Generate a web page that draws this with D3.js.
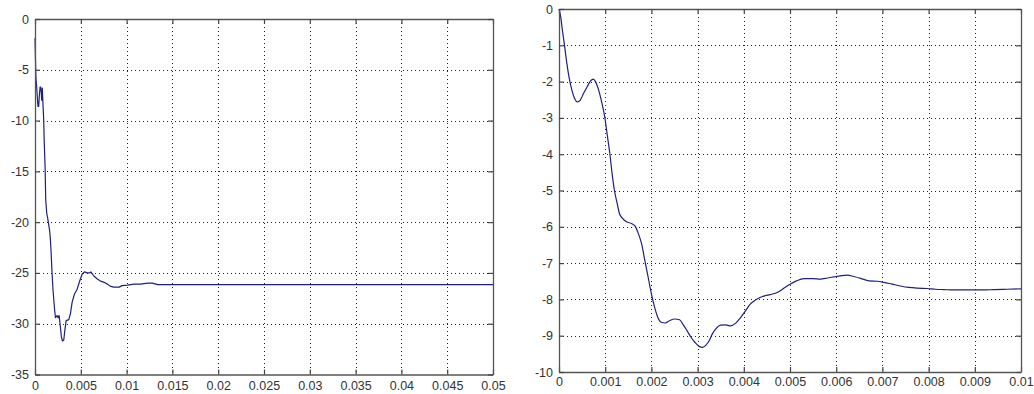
<!DOCTYPE html>
<html>
<head>
<meta charset="utf-8">
<script src="https://cdn.jsdelivr.net/npm/d3@7"></script>
<style>
  html, body { margin: 0; padding: 0; background: #fff; }
  svg { display: block; }
  .tick text { font-family: "Liberation Sans", Arial, sans-serif; font-size: 12.5px; fill: #333; }
</style>
</head>
<body>
<svg id="chart" width="1034" height="394"></svg>
<script>
// Step response, full run (0 .. 0.05 s)
const fullTime = [0, 0.00007, 0.0001, 0.00018, 0.00026, 0.00033, 0.0004, 0.00047, 0.00055, 0.00062, 0.00068,
  0.00073, 0.0008, 0.00088, 0.00095, 0.001, 0.0011, 0.00117, 0.00128, 0.00142, 0.0016, 0.00168, 0.00175,
  0.00186, 0.00197, 0.00212, 0.00223, 0.0024, 0.00252, 0.00263, 0.00277, 0.00288, 0.003, 0.00314, 0.00325,
  0.0034, 0.00369, 0.00387, 0.00405, 0.0043, 0.0046, 0.0049, 0.00515, 0.0054, 0.0057, 0.006, 0.0061,
  0.00642, 0.0068, 0.00715, 0.0075, 0.0079, 0.0082, 0.0086, 0.0092, 0.0095, 0.0101, 0.0108, 0.0115,
  0.0123, 0.0128, 0.0134, 0.02, 0.03, 0.04, 0.05];
const fullValue = [-1.9, -4.7, -5.8, -6.65, -7.8, -8.6, -8.6, -7.6, -6.7, -6.7, -7.2,
  -8.0, -6.8, -8.6, -9.9, -11.9, -14.5, -17.8, -19.1, -19.8, -20.85, -21.7, -22.8,
  -25.0, -26.7, -28.4, -29.4, -29.2, -29.4, -29.2, -30.3, -31.3, -31.7, -31.6, -30.7,
  -29.7, -29.6, -29.0, -27.9, -27.1, -26.6, -25.75, -25.1, -24.9, -25.0, -25.0, -24.9,
  -25.3, -25.6, -25.8, -25.9, -26.1, -26.3, -26.4, -26.4, -26.25, -26.2, -26.1, -26.1,
  -26.0, -26.0, -26.15, -26.15, -26.15, -26.15, -26.15];

// Same response, first 10 ms
const zoomTime = [0, 0.000036, 0.000073, 0.000117, 0.00017, 0.00022, 0.00028, 0.00034, 0.0004, 0.00046,
  0.00053, 0.00061, 0.00068, 0.00074, 0.00079, 0.00086, 0.00093, 0.00099, 0.00104, 0.0011, 0.00115,
  0.0012, 0.00126, 0.00131, 0.00137, 0.00146, 0.00157, 0.00164, 0.00171, 0.00179, 0.00186, 0.00193,
  0.002, 0.00207, 0.00214, 0.00221, 0.0023, 0.00239, 0.0025, 0.00261, 0.00268, 0.00277, 0.00286,
  0.00294, 0.00304, 0.00311, 0.00318, 0.00325, 0.00332, 0.00339, 0.0035, 0.00361, 0.00371, 0.00382,
  0.00393, 0.00404, 0.00414, 0.00425, 0.00436, 0.00446, 0.00457, 0.00468, 0.00479, 0.00489, 0.005,
  0.00514, 0.0053, 0.0055, 0.00566, 0.00581, 0.00595, 0.00609, 0.00624, 0.00638, 0.00653, 0.00671,
  0.00689, 0.00703, 0.00721, 0.00739, 0.00757, 0.00775, 0.00797, 0.00815, 0.00833, 0.00854, 0.00876,
  0.00898, 0.00919, 0.00941, 0.0097, 0.01];
const zoomValue = [0, -0.21, -0.58, -0.98, -1.5, -1.9, -2.24, -2.47, -2.56, -2.51,
  -2.33, -2.14, -1.99, -1.93, -2.0, -2.24, -2.6, -2.97, -3.43, -3.98, -4.54,
  -5.0, -5.36, -5.64, -5.76, -5.86, -5.91, -5.97, -6.16, -6.48, -6.94, -7.39,
  -7.85, -8.22, -8.5, -8.63, -8.65, -8.59, -8.54, -8.56, -8.68, -8.86, -9.05,
  -9.18, -9.3, -9.32, -9.26, -9.14, -8.95, -8.82, -8.71, -8.7, -8.73, -8.66,
  -8.5, -8.31, -8.13, -8.02, -7.94, -7.9, -7.87, -7.83, -7.76, -7.67, -7.58,
  -7.49, -7.43, -7.43, -7.44, -7.41, -7.38, -7.35, -7.33, -7.37, -7.42, -7.49,
  -7.5, -7.53, -7.58, -7.63, -7.67, -7.69, -7.7, -7.72, -7.73, -7.74, -7.74,
  -7.74, -7.74, -7.73, -7.72, -7.71];

// Tick values
const fullXTicks = [0, 0.005, 0.01, 0.015, 0.02, 0.025, 0.03, 0.035, 0.04, 0.045, 0.05];
const fullYTicks = [0, -5, -10, -15, -20, -25, -30, -35];
const zoomXTicks = [0, 0.001, 0.002, 0.003, 0.004, 0.005, 0.006, 0.007, 0.008, 0.009, 0.01];
const zoomYTicks = [0, -1, -2, -3, -4, -5, -6, -7, -8, -9, -10];

const svg = d3.select("#chart");
const lineColor = "#1f1f80";

function fmt(v) {
  if (v === 0) return "0";
  return String(+v.toFixed(4));
}

function panel(box, xDomain, yDomain, xTicks, yTicks, tData, vData, curve) {
  const x = d3.scaleLinear().domain(xDomain).range([box.left, box.right]);
  const y = d3.scaleLinear().domain(yDomain).range([box.bottom, box.top]);
  const g = svg.append("g");

  g.append("rect")
    .attr("x", box.left).attr("y", box.top)
    .attr("width", box.right - box.left).attr("height", box.bottom - box.top)
    .attr("fill", "#fff");

  // dotted grid
  const grid = g.append("g").attr("stroke", "#222").attr("stroke-width", 1)
    .attr("stroke-dasharray", "1,3");
  grid.selectAll("line.gx").data(xTicks.slice(1, -1)).join("line")
    .attr("x1", d => Math.round(x(d)) + 0.5).attr("x2", d => Math.round(x(d)) + 0.5)
    .attr("y1", box.top).attr("y2", box.bottom);
  grid.selectAll("line.gy").data(yTicks.slice(1, -1)).join("line")
    .attr("y1", d => Math.round(y(d)) + 0.5).attr("y2", d => Math.round(y(d)) + 0.5)
    .attr("x1", box.left).attr("x2", box.right);

  // response curve
  const pts = tData.map((t, i) => [t, vData[i]]);
  g.append("path")
    .datum(pts)
    .attr("fill", "none")
    .attr("stroke", lineColor)
    .attr("stroke-width", 1.2)
    .attr("stroke-linejoin", "round")
    .attr("d", d3.line().x(d => x(d[0])).y(d => y(d[1])).curve(curve));

  // axes with inward ticks on all four sides
  const tk = 5;
  const bottomAxis = d3.axisBottom(x).tickValues(xTicks).tickFormat(fmt).tickSizeInner(-tk).tickSizeOuter(0).tickPadding(box.xPad);
  const topAxis = d3.axisTop(x).tickValues(xTicks).tickFormat("").tickSizeInner(-tk).tickSizeOuter(0);
  const leftAxis = d3.axisLeft(y).tickValues(yTicks).tickFormat(fmt).tickSizeInner(-tk).tickSizeOuter(0).tickPadding(6);
  const rightAxis = d3.axisRight(y).tickValues(yTicks).tickFormat("").tickSizeInner(-tk).tickSizeOuter(0);

  const axes = [
    [bottomAxis, `translate(0,${box.bottom})`],
    [topAxis, `translate(0,${box.top})`],
    [leftAxis, `translate(${box.left},0)`],
    [rightAxis, `translate(${box.right},0)`]
  ];
  axes.forEach(([ax, tr]) => {
    const a = g.append("g").attr("transform", tr).call(ax);
    a.select(".domain").attr("stroke", "#555").attr("stroke-width", 1.3);
    a.selectAll(".tick line").attr("stroke", "#444").attr("stroke-width", 1.2);
  });
}

panel({ left: 35, right: 493, top: 19, bottom: 374.5, xPad: 6.5 },
  [0, 0.05], [-35, 0], fullXTicks, fullYTicks, fullTime, fullValue, d3.curveLinear);

panel({ left: 559, right: 1021, top: 9, bottom: 372, xPad: 5.5 },
  [0, 0.01], [-10, 0], zoomXTicks, zoomYTicks, zoomTime, zoomValue, d3.curveMonotoneX);
</script>
</body>
</html>
